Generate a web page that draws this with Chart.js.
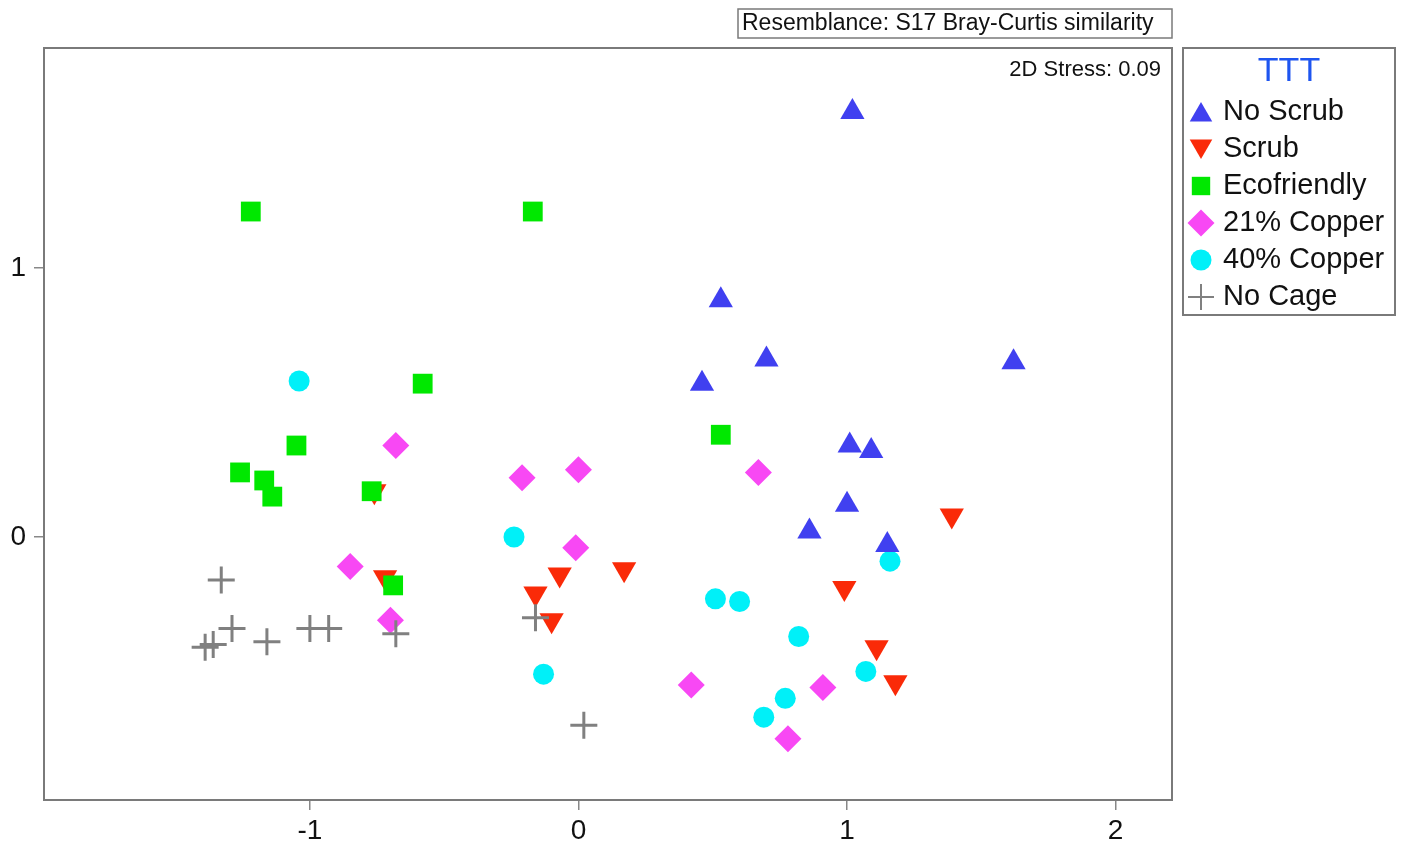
<!DOCTYPE html>
<html>
<head>
<meta charset="utf-8">
<script src="https://cdn.jsdelivr.net/npm/chart.js@4"></script>
<style>
  body { margin: 0; background: #fff; }
  #wrap { width: 1402px; height: 846px; }
</style>
</head>
<body>
<div id="wrap"><canvas id="mds" width="1402" height="846"></canvas></div>
<script>
// nMDS ordination
const groups = ['No Scrub', 'Scrub', 'Ecofriendly', '21% Copper', '40% Copper', 'No Cage'];

const noScrubX = [1.02, 0.53, 0.70, 0.46, 1.62, 1.01, 1.09, 1.00, 0.86, 1.15];
const noScrubY = [1.58, 0.88, 0.66, 0.57, 0.65, 0.34, 0.32, 0.12, 0.02, -0.03];

const scrubX = [-0.76, -0.72, -0.07, -0.16, -0.10, 0.17, 1.39, 0.99, 1.11, 1.18];
const scrubY = [0.17, -0.15, -0.14, -0.21, -0.31, -0.12, 0.08, -0.19, -0.41, -0.54];

const ecoX = [-1.22, -0.17, -0.58, -1.05, -1.26, -1.17, -1.14, -0.77, -0.69, 0.53];
const ecoY = [1.21, 1.21, 0.57, 0.34, 0.24, 0.21, 0.15, 0.17, -0.18, 0.38];

const cu21X = [-0.68, -0.21, 0.00, -0.01, -0.85, -0.70, 0.67, 0.42, 0.91, 0.78];
const cu21Y = [0.34, 0.22, 0.25, -0.04, -0.11, -0.31, 0.24, -0.55, -0.56, -0.75];

const cu40X = [-1.04, -0.24, -0.13, 0.51, 0.60, 0.82, 1.16, 1.07, 0.77, 0.69];
const cu40Y = [0.58, 0.00, -0.51, -0.23, -0.24, -0.37, -0.09, -0.50, -0.60, -0.67];

const noCageX = [-1.33, -1.29, -1.39, -1.36, -1.16, -1.00, -0.93, -0.68, -0.16, 0.02];
const noCageY = [-0.16, -0.34, -0.41, -0.40, -0.39, -0.34, -0.34, -0.36, -0.30, -0.70];

const xTicks = [-1, 0, 1, 2];
const yTicks = [0, 1];

const resemblance = 'Resemblance: S17 Bray-Curtis similarity';
const stress = '2D Stress: 0.09';
const legendTitle = 'TTT';

const FONT = "'Liberation Sans', Arial, sans-serif";
const pts = (xs, ys) => xs.map((x, i) => ({ x: x, y: ys[i] }));

const styles = [
  { pointStyle: 'triangle', pointRotation: 0, pointRadius: 14, color: '#4040f0', order: 3 },
  { pointStyle: 'triangle', pointRotation: 180, pointRadius: 14, color: '#fa2a08', order: 4 },
  { pointStyle: 'rect', pointRotation: 0, pointRadius: 14, color: '#00e800', order: 1 },
  { pointStyle: 'rectRot', pointRotation: 0, pointRadius: 13.5, color: '#f848f4', order: 5 },
  { pointStyle: 'circle', pointRotation: 0, pointRadius: 10.5, color: '#00f0f8', order: 6 },
  { pointStyle: 'cross', pointRotation: 0, pointRadius: 13.5, color: '#808080', order: 2 }
];
const series = [pts(noScrubX, noScrubY), pts(scrubX, scrubY), pts(ecoX, ecoY),
                pts(cu21X, cu21Y), pts(cu40X, cu40Y), pts(noCageX, noCageY)];

const datasets = groups.map((g, i) => {
  const s = styles[i];
  const isCross = s.pointStyle === 'cross';
  return {
    label: g,
    data: series[i],
    order: s.order,
    pointStyle: s.pointStyle,
    pointRotation: s.pointRotation,
    pointRadius: s.pointRadius,
    backgroundColor: s.color,
    borderColor: s.color,
    borderWidth: isCross ? 3 : 0
  };
});

const extras = {
  id: 'extras',
  afterDraw(chart) {
    const ctx = chart.ctx;
    const a = chart.chartArea;
    ctx.save();
    // frame round the plot
    ctx.strokeStyle = '#7a7a7a';
    ctx.lineWidth = 2;
    ctx.strokeRect(a.left, a.top, a.right - a.left, a.bottom - a.top);

    // resemblance box
    ctx.lineWidth = 1.5;
    ctx.strokeRect(738, 9, a.right - 738, 29);
    ctx.fillStyle = '#111';
    ctx.font = '23px ' + FONT;
    ctx.textBaseline = 'middle';
    ctx.textAlign = 'left';
    ctx.fillText(resemblance, 742, 24);

    // stress
    ctx.font = '22px ' + FONT;
    ctx.textAlign = 'right';
    ctx.fillText(stress, a.right - 11, 70);

    // legend
    ctx.lineWidth = 2;
    ctx.strokeRect(1183, 48, 212, 267);
    ctx.fillStyle = '#1e55f0';
    ctx.font = '34px ' + FONT;
    ctx.textAlign = 'center';
    ctx.fillText(legendTitle, 1289, 72);
    const legendR = [13, 13, 13, 13.5, 10.5, 13];
    groups.forEach((g, i) => {
      const y = 112 + i * 37;
      const s = styles[i];
      ctx.fillStyle = s.color;
      ctx.strokeStyle = s.color;
      const isCross = s.pointStyle === 'cross';
      let yy = y;
      if (s.pointStyle === 'triangle') yy += s.pointRotation ? -3 : 3;
      Chart.helpers.drawPoint(ctx, {
        pointStyle: s.pointStyle, rotation: s.pointRotation,
        radius: legendR[i], borderWidth: isCross ? 3 : 0
      }, 1201, yy);
      ctx.fillStyle = '#111';
      ctx.font = '29px ' + FONT;
      ctx.textAlign = 'left';
      ctx.fillText(g, 1223, y);
    });
    ctx.restore();
  }
};

new Chart(document.getElementById('mds'), {
  type: 'scatter',
  data: { datasets: datasets },
  options: {
    responsive: false,
    animation: false,
    events: [],
    layout: { padding: { top: 48, right: 230, left: 0, bottom: 0 } },
    plugins: { legend: { display: false }, tooltip: { enabled: false } },
    scales: {
      x: {
        type: 'linear', min: -1.99, max: 2.21,
        afterBuildTicks: s => { s.ticks = xTicks.map(v => ({ value: v })); },
        afterFit: s => { s.height = 46; },
        grid: { drawOnChartArea: false, drawTicks: true, tickLength: 10, color: '#888', lineWidth: 1.5 },
        border: { display: false },
        ticks: { font: { size: 28, family: FONT }, color: '#111', padding: 4 }
      },
      y: {
        type: 'linear', min: -0.978, max: 1.818,
        afterBuildTicks: s => { s.ticks = yTicks.map(v => ({ value: v })); },
        afterFit: s => { s.width = 44; },
        grid: { drawOnChartArea: false, drawTicks: true, tickLength: 10, color: '#888', lineWidth: 1.5 },
        border: { display: false },
        ticks: { font: { size: 28, family: FONT }, color: '#111', padding: 8 }
      }
    }
  },
  plugins: [extras]
});
</script>
</body>
</html>
